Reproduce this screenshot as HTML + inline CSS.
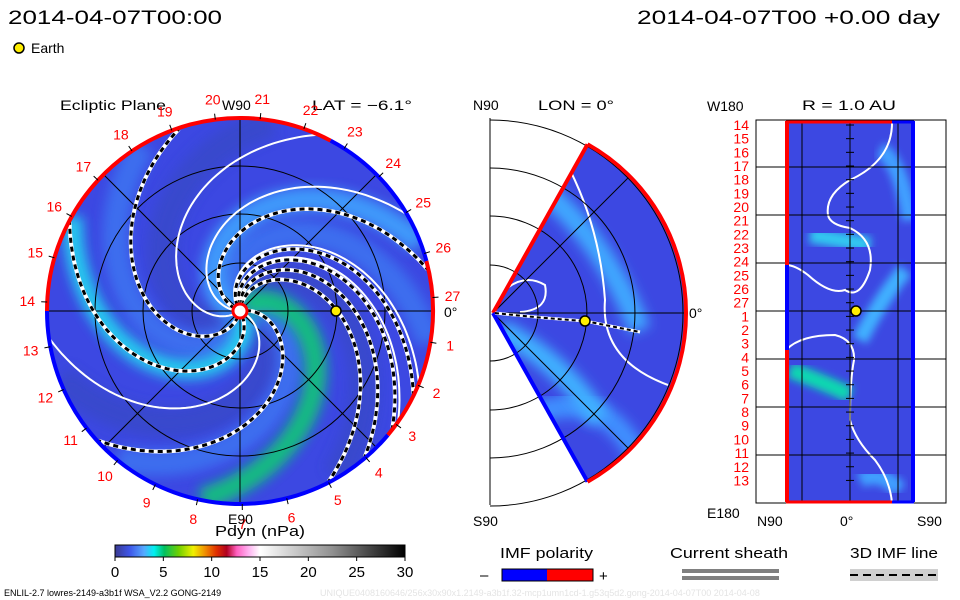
<!DOCTYPE html>
<html><head><meta charset="utf-8"><style>
body{margin:0;background:#fff;}
svg{display:block;font-family:"Liberation Sans",sans-serif;}
</style></head><body>
<svg id="c" width="960" height="600" viewBox="0 0 960 600">
<defs>
<clipPath id="eclip"><circle cx="240" cy="311" r="193"/></clipPath>
<clipPath id="wclip"><path d="M493,313 L587.5,144.3 A193,193 0 0 1 587.5,481.7 Z"/></clipPath>
<clipPath id="rclip"><rect x="786" y="121" width="128" height="382"/></clipPath>
<filter id="blur" x="-20%" y="-20%" width="140%" height="140%"><feGaussianBlur stdDeviation="6"/></filter>
<filter id="blur2" x="-20%" y="-20%" width="140%" height="140%"><feGaussianBlur stdDeviation="4"/></filter>
<linearGradient id="cbar" x1="0" x2="1" y1="0" y2="0">
<stop offset="0" stop-color="#3a3a90"/><stop offset="0.05" stop-color="#3e55e8"/><stop offset="0.1" stop-color="#55a8ff"/>
<stop offset="0.135" stop-color="#00f0f0"/><stop offset="0.17" stop-color="#00c060"/><stop offset="0.22" stop-color="#70d000"/>
<stop offset="0.27" stop-color="#f0f000"/><stop offset="0.31" stop-color="#f09000"/><stop offset="0.35" stop-color="#e03000"/>
<stop offset="0.385" stop-color="#b00020"/><stop offset="0.42" stop-color="#ff60c0"/><stop offset="0.46" stop-color="#ffb0f0"/>
<stop offset="0.5" stop-color="#ffffff"/><stop offset="0.75" stop-color="#909090"/><stop offset="1" stop-color="#000000"/>
</linearGradient>
</defs>

<text x="8" y="24" font-size="19" textLength="214" lengthAdjust="spacingAndGlyphs">2014-04-07T00:00</text>
<text x="637" y="24" font-size="19" textLength="303" lengthAdjust="spacingAndGlyphs">2014-04-07T00 +0.00 day</text>
<circle cx="19" cy="48" r="5" fill="#ffee00" stroke="#000" stroke-width="1.5"/>
<text x="31" y="53" font-size="14">Earth</text>

<g id="ecl">
<text x="60" y="110" font-size="14" textLength="106" lengthAdjust="spacingAndGlyphs">Ecliptic Plane</text>
<text x="312" y="110" font-size="14" textLength="100" lengthAdjust="spacingAndGlyphs">LAT = −6.1°</text>
<g clip-path="url(#eclip)" id="eclbody">
<circle cx="240" cy="311" r="193" fill="#3c48e2"/>
</g>
</g>

<g id="mer">
<text x="473" y="110" font-size="14">N90</text>
<text x="538" y="110" font-size="14" textLength="76" lengthAdjust="spacingAndGlyphs">LON = 0°</text>
<text x="473" y="526" font-size="14">S90</text>
<text x="689" y="318" font-size="14">0°</text>
</g>

<g id="rp">
<text x="802" y="110" font-size="14" textLength="94" lengthAdjust="spacingAndGlyphs">R = 1.0 AU</text>
<text x="707" y="111" font-size="14">W180</text>
<text x="707" y="518" font-size="14">E180</text>
<text x="757" y="526" font-size="14">N90</text>
<text x="840" y="526" font-size="14">0°</text>
<text x="917" y="526" font-size="14">S90</text>
</g>

<text x="215" y="536" font-size="15" textLength="90" lengthAdjust="spacingAndGlyphs">Pdyn (nPa)</text>
<text x="228" y="524" font-size="14">E90</text>
<rect x="115" y="545" width="290" height="12" fill="url(#cbar)" stroke="#000"/>
<g id="cbticks"></g>

<text x="500" y="558" font-size="15" textLength="93" lengthAdjust="spacingAndGlyphs">IMF polarity</text>
<text x="480" y="580" font-size="15">–</text>
<rect x="502" y="569" width="45" height="12" fill="#0000ff"/>
<rect x="547" y="569" width="46" height="12" fill="#ff0000"/>
<rect x="502" y="569" width="91" height="12" fill="none" stroke="#000"/>
<text x="599" y="581" font-size="15">+</text>
<text x="670" y="558" font-size="15" textLength="118" lengthAdjust="spacingAndGlyphs">Current sheath</text>
<rect x="682" y="569" width="97" height="4" fill="#808080"/>
<rect x="682" y="576" width="97" height="4" fill="#808080"/>
<text x="850" y="558" font-size="15" textLength="88" lengthAdjust="spacingAndGlyphs">3D IMF line</text>
<rect x="850" y="569" width="88" height="12" fill="#d0d0d0"/>
<line x1="850" y1="575" x2="938" y2="575" stroke="#000" stroke-width="2" stroke-dasharray="8,5"/>
<text x="4" y="596" font-size="9">ENLIL-2.7 lowres-2149-a3b1f WSA_V2.2 GONG-2149</text>
<text x="320" y="596" font-size="9" fill="#e4e4e4">UNIQUE0408160646/256x30x90x1.2149-a3b1f.32-mcp1umn1cd-1.g53q5d2.gong-2014-04-07T00   2014-04-08</text>
</svg>
<script>
const NS='http://www.w3.org/2000/svg';
const cbTicks=[0,5,10,15,20,25,30];
const carrLabels=[14,15,16,17,18,19,20,21,22,23,24,25,26,27,1,2,3,4,5,6,7,8,9,10,11,12,13];
const dashedEndAngles=[108,152,222,297,310,322,334,12];
const sheathEndAngles=[66,30,188,-22,-35];
const cyanBands=[{end:150,col:'#20e0f0',w:20},{end:258,col:'#10d070',w:22},{end:20,col:'#40a8ff',w:24}];
const rimSegments=[{from:180,to:62,col:'#ff0000'},{from:62,to:15,col:'#0000ff'},{from:15,to:-40,col:'#ff0000'},{from:-40,to:-180,col:'#0000ff'}];

const cx=240,cy=311,R=193,K=0.55;
function mk(tag,attrs,parent){const e=document.createElementNS(NS,tag);for(const k in attrs)e.setAttribute(k,attrs[k]);parent.appendChild(e);return e;}
function pol(r,deg){const a=deg*Math.PI/180;return [cx+r*Math.cos(a),cy-r*Math.sin(a)];}
function spiral(end,k){let d='';for(let r=6;r<=R;r+=3){const p=pol(r,end+k*(R-r)*(1+0.4*(R-r)/R));d+=(d?'L':'M')+p[0].toFixed(1)+','+p[1].toFixed(1);}return d;}

const body=document.getElementById('eclbody');
for(const e of [80,200,300]){
 const p=mk('path',{d:spiral(e,K),fill:'none',stroke:'#3848c8','stroke-width':30,filter:'url(#blur)',opacity:0.8},body);
 
 
}
for(const e of [120,230,350]){
 const p=mk('path',{d:spiral(e,K),fill:'none',stroke:'#3d78f2','stroke-width':26,filter:'url(#blur)',opacity:0.8},body);
 
 
}
for(const b of cyanBands){
 const p=mk('path',{d:spiral(b.end,K),fill:'none',stroke:b.col,'stroke-width':b.w,filter:'url(#blur)',opacity:0.85},body);
 
 
}
const ecl=document.getElementById('ecl');
for(const rr of [48,97,145]){const c=mk('circle',{cx:cx,cy:cy,r:rr,fill:'none',stroke:'#000','stroke-width':1},ecl);}
for(const a of [0,45,90,135]){const p1=pol(R,a),p2=pol(R,a+180);const l=mk('line',{x1:p1[0],y1:p1[1],x2:p2[0],y2:p2[1],stroke:'#000','stroke-width':1},ecl);}
for(const e of sheathEndAngles){const p=mk('path',{d:spiral(e,K),fill:'none',stroke:'#fff','stroke-width':2},ecl);}
for(const e of dashedEndAngles){
 const d=spiral(e,K);
 const a=mk('path',{d:d,fill:'none',stroke:'#fff','stroke-width':4},ecl);
 const b=mk('path',{d:d,fill:'none',stroke:'#000','stroke-width':3,'stroke-dasharray':'5,4'},ecl);
}
for(const s of rimSegments){
 const p1=pol(R,s.from),p2=pol(R,s.to);
 const p=mk('path',{d:`M${p1[0]},${p1[1]} A${R},${R} 0 0 1 ${p2[0]},${p2[1]}`,fill:'none',stroke:s.col,'stroke-width':4},ecl);
 
 
}
{const s=mk('circle',{cx:cx,cy:cy,r:7,fill:'#fff',stroke:'#f00','stroke-width':3},ecl);}
carrLabels.forEach((lab)=>{
 const ang=4-13.333*lab;
 const p=pol(213,ang);
 const t=mk('text',{x:p[0],y:p[1]+5,'font-size':14,fill:'#ff0000','text-anchor':'middle'},ecl);t.textContent=lab;
 
 
 const q1=pol(R,ang),q2=pol(R+6,ang);mk('line',{x1:q1[0],y1:q1[1],x2:q2[0],y2:q2[1],stroke:'#000'},ecl);
});
{const t=mk('text',{x:222,y:110,'font-size':14},ecl);t.textContent='W90';
 const t2=mk('text',{x:444,y:317,'font-size':14},ecl);t2.textContent='0°';}
{const e=mk('circle',{cx:336,cy:311,r:5,fill:'#ffee00',stroke:'#000','stroke-width':1.5},ecl);}

const mer=document.getElementById('mer');
const mx=493,my=313;
{const l=mk('line',{x1:490,y1:118,x2:490,y2:505,stroke:'#000'},mer);}
const wg=mk('g',{'clip-path':'url(#wclip)'},mer);
mk('rect',{x:480,y:130,width:220,height:360,fill:'#3c48e2'},wg);
for(const b of [{d:'M530,180 Q600,230 640,330',c:'#40a8ff'},{d:'M520,420 Q600,380 640,460',c:'#4090ff'},{d:'M500,330 Q560,360 600,420',c:'#40b0ff'}]){
 const p=mk('path',{d:b.d,fill:'none',stroke:b.c,'stroke-width':22,filter:'url(#blur)'},wg);}
{const p=mk('path',{d:'M570,170 Q600,230 605,300 Q600,360 668,385',fill:'none',stroke:'#fff','stroke-width':2},wg);}
mk('path',{d:'M495,300 Q520,270 545,285 Q550,310 520,312',fill:'none',stroke:'#fff','stroke-width':2},wg);
for(const rr of [48,97,145,193]){
 const c=mk('path',{d:`M${mx-3},${my-rr} A${rr},${rr} 0 0 1 ${mx-3},${my+rr}`,fill:'none',stroke:'#000'},mer);}
for(const a of [45,-45]){const p=[mx+193*Math.cos(a*Math.PI/180),my-193*Math.sin(a*Math.PI/180)];mk('line',{x1:mx,y1:my,x2:p[0],y2:p[1],stroke:'#000'},mer);}
mk('line',{x1:mx,y1:my,x2:686,y2:my,stroke:'#000'},mer);
mk('line',{x1:mx,y1:my,x2:587.5,y2:144.3,stroke:'#f00','stroke-width':4},mer);
mk('line',{x1:mx,y1:my,x2:587.5,y2:481.7,stroke:'#00f','stroke-width':4},mer);
mk('path',{d:'M587.5,144.3 A193,193 0 0 1 686,313 A193,193 0 0 1 587.5,481.7',fill:'none',stroke:'#f00','stroke-width':4},mer);
mk('path',{d:'M495,313 Q540,318 585,321 Q610,326 640,332',fill:'none',stroke:'#fff','stroke-width':3},mer);
mk('path',{d:'M495,313 Q540,318 585,321 Q610,326 640,332',fill:'none',stroke:'#000','stroke-width':2,'stroke-dasharray':'4,3'},mer);
{const e=mk('circle',{cx:585,cy:321,r:5,fill:'#ffee00',stroke:'#000','stroke-width':1.5},mer);}

const rp=document.getElementById('rp');
{const f=mk('rect',{x:756,y:120,width:190,height:383,fill:'none',stroke:'#000'},rp);}
const rg=mk('g',{'clip-path':'url(#rclip)'},rp);
mk('rect',{x:786,y:121,width:128,height:382,fill:'#3c48e2'},rg);
for(const b of [{d:'M810,235 Q840,240 870,245',c:'#30c8f0'},{d:'M790,370 Q830,385 850,395',c:'#10d8b0'},{d:'M860,340 Q880,300 905,270',c:'#40b0ff'},{d:'M880,150 Q900,160 910,220',c:'#40a0ff'},{d:'M860,480 Q880,470 900,490',c:'#40a0ff'}]){
 const p=mk('path',{d:b.d,fill:'none',stroke:b.c,'stroke-width':16,filter:'url(#blur2)'},rg);}
{const p=mk('path',{d:'M892,121 Q893,160 850,180 Q825,195 828,215 Q830,225 850,228 Q875,240 870,270 Q860,300 845,290 Q830,295 808,275 Q795,265 786,265',fill:'none',stroke:'#fff','stroke-width':2},rg);}
mk('path',{d:'M786,350 Q800,335 835,335 Q855,340 854,360 Q850,380 850,420 Q855,440 875,460 Q890,480 892,503',fill:'none',stroke:'#fff','stroke-width':2},rg);
const hLines=[167,215,263,311,359,407,455];
for(const y of hLines){mk('line',{x1:756,y1:y,x2:946,y2:y,stroke:'#000'},rp);}
for(const x of [802,850,898]){mk('line',{x1:x,y1:120,x2:x,y2:503,stroke:'#000'},rp);}
mk('line',{x1:787,y1:121,x2:787,y2:265,stroke:'#f00','stroke-width':4},rp);
mk('line',{x1:787,y1:265,x2:787,y2:350,stroke:'#00f','stroke-width':4},rp);
mk('line',{x1:787,y1:350,x2:787,y2:502,stroke:'#f00','stroke-width':4},rp);
mk('line',{x1:913,y1:121,x2:913,y2:502,stroke:'#00f','stroke-width':4},rp);
mk('line',{x1:786,y1:122,x2:892,y2:122,stroke:'#f00','stroke-width':3},rp);
mk('line',{x1:892,y1:122,x2:914,y2:122,stroke:'#00f','stroke-width':3},rp);
mk('line',{x1:786,y1:502,x2:892,y2:502,stroke:'#f00','stroke-width':3},rp);
mk('line',{x1:892,y1:502,x2:914,y2:502,stroke:'#00f','stroke-width':3},rp);
carrLabels.forEach((lab,i)=>{
 const y=125+i*13.67;
 const t=mk('text',{x:749,y:y+5,'font-size':14,fill:'#ff0000','text-anchor':'end'},rp);t.textContent=lab;
 
 
 mk('line',{x1:846,y1:y,x2:854,y2:y,stroke:'#000'},rp);
});
{const e=mk('circle',{cx:856,cy:311,r:5,fill:'#ffee00',stroke:'#000','stroke-width':1.5},rp);}

const cbg=document.getElementById('cbticks');
cbTicks.forEach(v=>{
 const x=115+v/30*290;
 mk('line',{x1:x,y1:557,x2:x,y2:561,stroke:'#000'},cbg);
 const t=mk('text',{x:x,y:577,'font-size':15,'text-anchor':'middle'},cbg);t.textContent=v;
 
 
});
</script>
</body></html>
